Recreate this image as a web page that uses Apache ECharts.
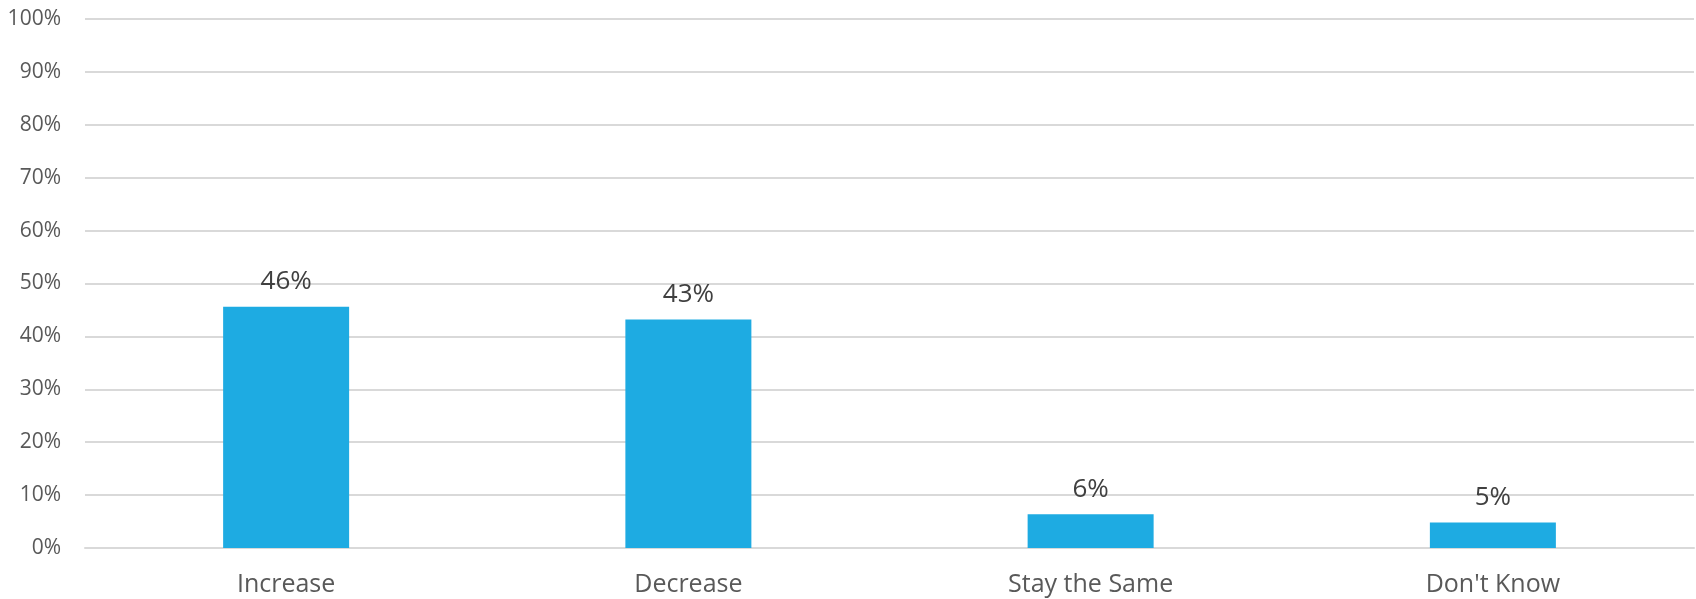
<!DOCTYPE html>
<html>
<head>
<meta charset="utf-8">
<script src="https://cdn.jsdelivr.net/npm/echarts@6/dist/echarts.min.js"></script>
<style>
html,body{margin:0;padding:0;background:#fff;}
#c{width:1696px;height:599px;}
</style>
</head>
<body>
<div id="c"></div>
<script>
const categories = ["Increase", "Decrease", "Stay the Same", "Don't Know"];
const values = [45.6, 43.2, 6.4, 4.8];
const valueLabels = ["46%", "43%", "6%", "5%"];

const chart = echarts.init(document.getElementById('c'), null, {renderer: 'canvas'});
chart.setOption({
  animation: false,
  backgroundColor: '#ffffff',
  textStyle: {fontFamily: 'Open Sans'},
  grid: {left: 85, right: 2, top: 19, bottom: 51, containLabel: false},
  xAxis: {
    type: 'category',
    data: categories,
    axisLine: {show: true, lineStyle: {color: '#d9d9d9', width: 2}},
    axisTick: {show: false},
    axisLabel: {color: '#595959', fontSize: 25, fontFamily: 'Open Sans', margin: 24}
  },
  yAxis: {
    type: 'value',
    min: 0, max: 100, interval: 10,
    axisLine: {show: false},
    axisTick: {show: false},
    splitLine: {lineStyle: {color: '#d9d9d9', width: 2}},
    axisLabel: {color: '#595959', fontSize: 21, fontFamily: 'Open Sans', margin: 24,
      formatter: v => v + '%'}
  },
  series: [{
    type: 'bar',
    data: values,
    barWidth: 126,
    itemStyle: {color: '#1eabe2'},
    label: {
      show: true, position: 'top', distance: 12,
      color: '#404040', fontSize: 26, fontFamily: 'Open Sans',
      formatter: p => valueLabels[p.dataIndex]
    }
  }]
});
</script>
</body>
</html>
